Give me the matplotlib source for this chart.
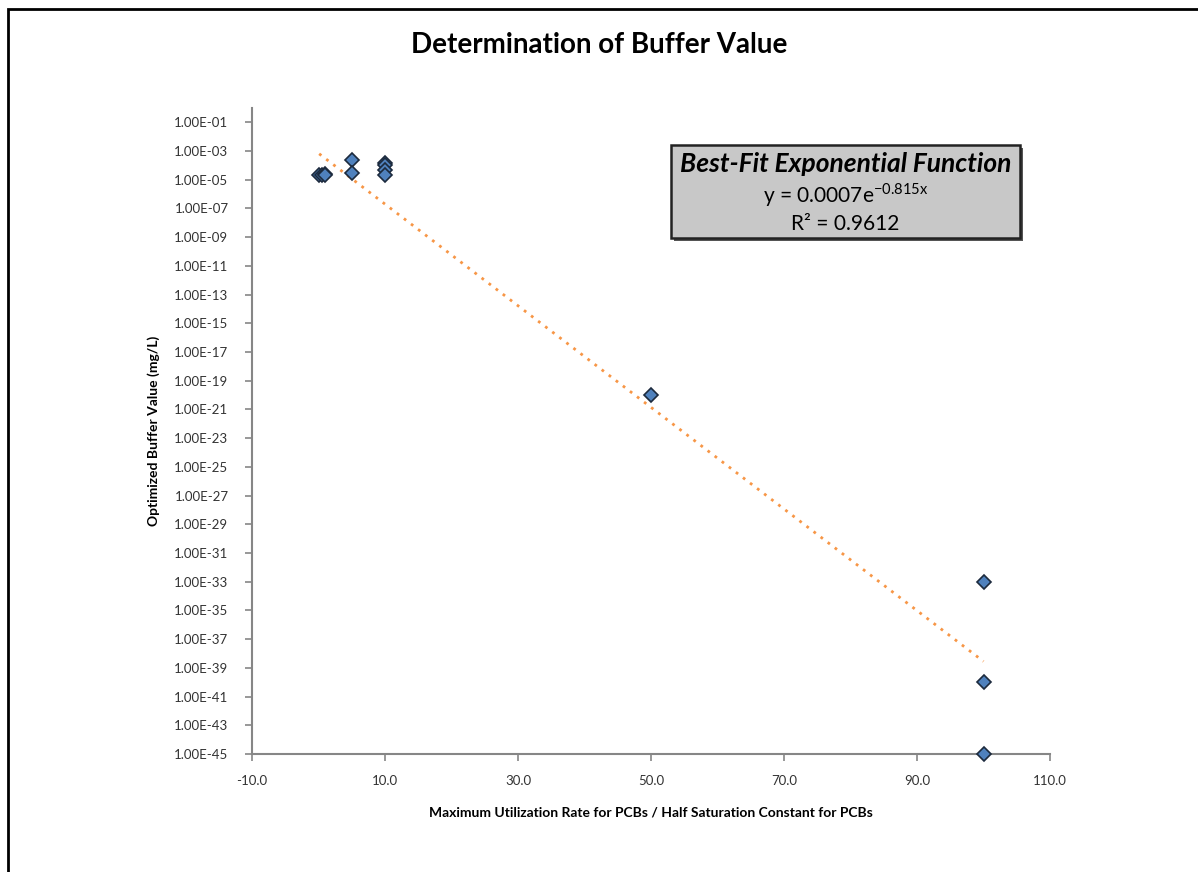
import matplotlib
matplotlib.use("Agg")
import matplotlib.pyplot as plt
import numpy as np
from matplotlib.patches import Rectangle
from matplotlib.ticker import FixedLocator, FuncFormatter

plt.rcParams['font.family'] = ['Lato', 'DejaVu Sans']

# ratio (max utilization / half saturation) vs. optimized buffer value
ratio = [0.1, 0.5, 1.0, 1.0, 5.0, 5.0, 10.0, 10.0, 10.0, 10.0, 50.0, 100.0, 100.0, 100.0]
buffer_value = [2.3e-5, 2.0e-5, 2.5e-5, 2.0e-5, 2.3e-4, 3.1e-5, 1.5e-4, 1.0e-4, 5.0e-5,
                2.3e-5, 1.0e-20, 1.0e-33, 1.0e-40, 1.0e-45]

# exponential trendline coefficients y = a * exp(b * x)
fit_a = 0.0007
fit_b = -0.815
fit_r2 = 0.9612

x_ticks = [-10.0, 10.0, 30.0, 50.0, 70.0, 90.0, 110.0]
y_exponents = list(range(-1, -46, -2))

fig = plt.figure(figsize=(11.98, 8.72), dpi=100)

# chart border with a light shadow
fig.patches.append(Rectangle((12 / 1198, -0.05), 1.2, 1 - 13 / 872 + 0.05,
                             transform=fig.transFigure, facecolor='#bdbdbd',
                             edgecolor='none', zorder=-3))
fig.patches.append(Rectangle((8 / 1198, -0.05), 1.2, 1 - 9 / 872 + 0.05,
                             transform=fig.transFigure, facecolor='white',
                             edgecolor='black', linewidth=2.0, zorder=-2))

ax = fig.add_axes([252 / 1198, 1 - 754 / 872, (1050 - 252) / 1198, (754 - 108) / 872])
ax.set_facecolor('none')

xs = np.linspace(min(ratio), max(ratio), 200)
ax.plot(xs, fit_a * np.exp(fit_b * xs), color='#F79646', linestyle=(0, (1, 2.2)),
        linewidth=2.0, zorder=2)
ax.plot(ratio, buffer_value, linestyle='none', marker='D', markersize=7,
        markerfacecolor='#4F81BD', markeredgecolor='#1c2a3d', markeredgewidth=1.2,
        zorder=3, clip_on=False)

ax.set_yscale('log')
ax.set_ylim(1e-45, 1e0)
ax.set_xlim(-10, 110)
ax.xaxis.set_major_locator(FixedLocator(x_ticks))
ax.xaxis.set_major_formatter(FuncFormatter(lambda v, p: '%.1f' % v))
ax.yaxis.set_major_locator(FixedLocator([10.0 ** e for e in y_exponents]))
ax.yaxis.set_minor_locator(FixedLocator([]))
ax.yaxis.set_major_formatter(FuncFormatter(lambda v, p: '1.00E-%02d' % round(-np.log10(v))))

for side in ['top', 'right']:
    ax.spines[side].set_visible(False)
for side in ['left', 'bottom']:
    ax.spines[side].set_color('#868686')
    ax.spines[side].set_linewidth(1.5)
ax.tick_params(axis='both', which='major', direction='out', length=5, width=1.2,
               color='#868686', labelsize=9.5, labelcolor='#333333')
ax.tick_params(axis='y', pad=12)
ax.tick_params(axis='x', pad=10)

ax.set_xlabel('Maximum Utilization Rate for PCBs / Half Saturation Constant for PCBs',
              fontsize=10, fontweight='bold', labelpad=14)
ax.set_ylabel('Optimized Buffer Value (mg/L)', fontsize=10, fontweight='bold', labelpad=10)

fig.text(0.5, 1 - 45 / 872, 'Determination of Buffer Value', ha='center', va='center',
         fontsize=20, fontweight='bold')

# equation box
bx0, by0, bx1, by1 = 671 / 1198, 1 - 238 / 872, 1020 / 1198, 1 - 145 / 872
fig.patches.append(Rectangle((bx0 + 3 / 1198, by0 - 3 / 872), bx1 - bx0, by1 - by0,
                             transform=fig.transFigure, facecolor='#555555',
                             edgecolor='none', zorder=5))
fig.patches.append(Rectangle((bx0, by0), bx1 - bx0, by1 - by0,
                             transform=fig.transFigure, facecolor='#c8c8c8',
                             edgecolor='#222222', linewidth=1.8, zorder=6))
cx = (bx0 + bx1) / 2
fig.text(cx, 1 - 164 / 872, 'Best-Fit Exponential Function', ha='center', va='center',
         fontsize=19, fontweight='bold', style='italic', zorder=7)
fig.text(cx, 1 - 195 / 872, r'y = %.4fe$^{\mathregular{%.3fx}}$' % (fit_a, fit_b),
         ha='center', va='center', fontsize=15, zorder=7)
fig.text(cx, 1 - 224 / 872, 'R\u00b2 = %.4f' % fit_r2, ha='center', va='center',
         fontsize=15, zorder=7)

fig.savefig('out.png', dpi=100)
